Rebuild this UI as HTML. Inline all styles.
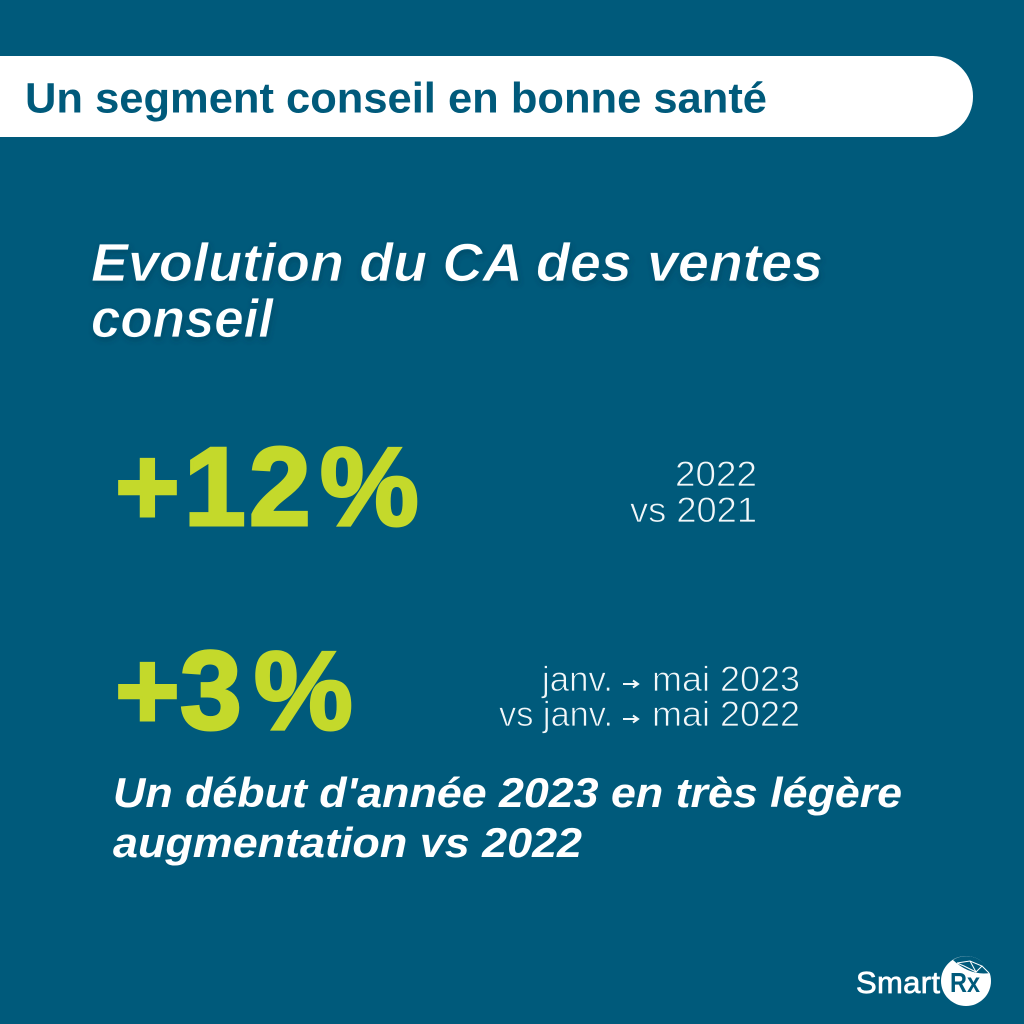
<!DOCTYPE html>
<html lang="fr">
<head>
<meta charset="utf-8">
<title>Un segment conseil en bonne santé</title>
<style>
html,body{margin:0;padding:0;width:1024px;height:1024px;background:#005a7b;overflow:hidden}
svg{display:block}
text{font-family:"Liberation Sans",sans-serif}
.thin{fill:#f2f7f9;font-size:35px;stroke:#005a7b;stroke-width:.8px}
.head{fill:#fff;font-size:54px;font-style:italic;font-weight:700;stroke:#005a7b;stroke-width:.8px}
.big{fill:#c4d92b;font-size:111px;font-weight:700;stroke:#c4d92b;stroke-width:3px}
.note{fill:#fff;font-size:42px;font-style:italic;font-weight:700}
.arrow{stroke:#f2f7f9;stroke-width:2;fill:none}
</style>
</head>
<body>
<svg width="1024" height="1024" viewBox="0 0 1024 1024" xmlns="http://www.w3.org/2000/svg">
  <defs>
    <filter id="soft" x="-5%" y="-20%" width="110%" height="150%">
      <feDropShadow dx="1" dy="3" stdDeviation="3" flood-color="#00314a" flood-opacity=".35"/>
    </filter>
  </defs>
  <rect width="1024" height="1024" fill="#005a7b"/>

  <rect x="-40" y="56" width="1013" height="81" rx="40" fill="#fff"/>
  <text x="25" y="112.5" font-size="43" font-weight="700" fill="#005a7b" textLength="742" lengthAdjust="spacingAndGlyphs">Un segment conseil en bonne santé</text>

  <g filter="url(#soft)">
    <text class="head" x="91" y="281" textLength="732" lengthAdjust="spacingAndGlyphs">Evolution du CA des ventes</text>
    <text class="head" x="91" y="337" textLength="182" lengthAdjust="spacingAndGlyphs">conseil</text>
  </g>

  <text class="big" x="115 184 249 320" y="525">+12%</text>
  <text class="thin" x="675" y="486" textLength="82" lengthAdjust="spacingAndGlyphs">2022</text>
  <text class="thin" x="630" y="522" textLength="127" lengthAdjust="spacingAndGlyphs">vs 2021</text>

  <text class="big" x="115 180 254" y="729">+3%</text>

  <text class="thin" x="542" y="691" textLength="71" lengthAdjust="spacingAndGlyphs">janv.</text>
  <path class="arrow" d="M623 684H637M633 680.5L638 684L633 687.5"/>
  <text class="thin" x="652" y="691" textLength="148" lengthAdjust="spacingAndGlyphs">mai 2023</text>

  <text class="thin" x="499" y="726" textLength="114" lengthAdjust="spacingAndGlyphs">vs janv.</text>
  <path class="arrow" d="M623 719H637M633 715.5L638 719L633 722.5"/>
  <text class="thin" x="652" y="726" textLength="148" lengthAdjust="spacingAndGlyphs">mai 2022</text>

  <text class="note" x="113" y="807" textLength="789" lengthAdjust="spacingAndGlyphs">Un début d'année 2023 en très légère</text>
  <text class="note" x="113" y="857" textLength="469" lengthAdjust="spacingAndGlyphs">augmentation vs 2022</text>

  <g>
    <text x="856" y="993" font-size="31" fill="#fff" stroke="#fff" stroke-width=".7" textLength="84" lengthAdjust="spacing">Smart</text>
    <circle cx="966" cy="981" r="25" fill="#fff"/>
    <path d="M953 960 A25 25 0 0 1 990 973 Q970 976 953 960Z" fill="#005a7b"/>
    <path d="M957 963L970 961L982 966L976 972L964 966L957 963M970 961L976 972M982 966L989 973" stroke="#fff" stroke-width="1" fill="none"/>
    <text x="950" y="992" font-size="28" fill="#005a7b" font-weight="700" textLength="30" lengthAdjust="spacingAndGlyphs">Rx</text>
  </g>
</svg>
</body>
</html>
